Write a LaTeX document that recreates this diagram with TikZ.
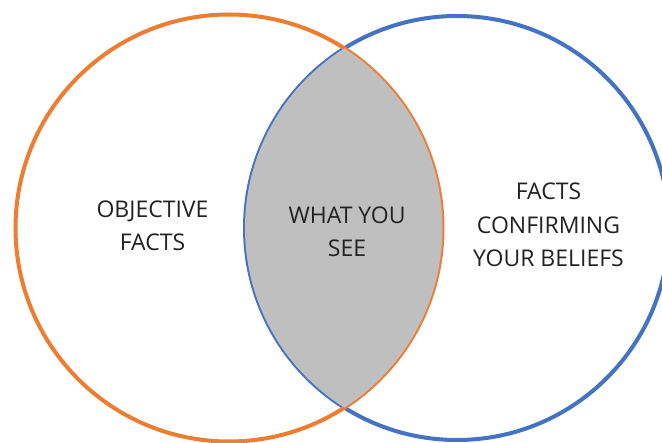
\documentclass[tikz,border=0pt]{standalone}
\usepackage{fontspec}
\setmainfont{Open Sans}
\definecolor{vorange}{HTML}{ED7D31}
\definecolor{vblue}{HTML}{4472C4}
\definecolor{vgrey}{HTML}{BFBFBF}
\definecolor{vtext}{HTML}{222222}
\begin{document}
\begin{tikzpicture}[x=1pt,y=-1pt,
  ring/.style={line width=4pt},
  label/.style={anchor=base,text=vtext,font=\fontsize{23}{33}\selectfont,inner sep=0pt}]
\useasboundingbox (0,0) rectangle (662,443);
\fill[white] (0,0) rectangle (662,443);
\draw[ring,vblue] (457,228) circle[radius=212];
\draw[ring,vorange] (229,228) circle[radius=213.5];
\begin{scope}
  \clip (229,228) circle[radius=213.5];
  \fill[vgrey] (457,228) circle[radius=212];
\end{scope}
\node[label] (obja) at (152.5,218) {OBJECTIVE};
\node[label] (objb) at (152.5,251) {FACTS};
\node[label] (seea) at (347,224) {WHAT YOU};
\node[label] (seeb) at (347,257) {SEE};
\node[label] (confa) at (548.5,200) {FACTS};
\node[label] (confb) at (548.5,234) {CONFIRMING};
\node[label] (confc) at (548.5,267) {YOUR BELIEFS};
\end{tikzpicture}
\end{document}
